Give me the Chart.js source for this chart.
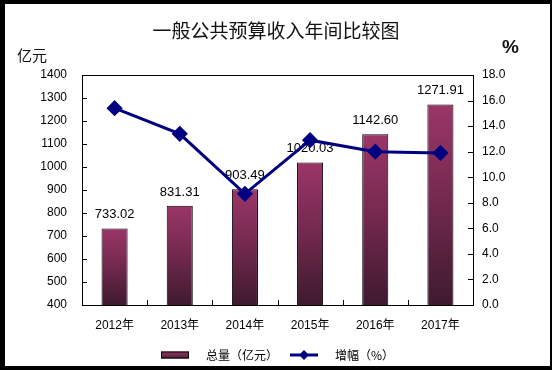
<!DOCTYPE html>
<html>
<head>
<meta charset="utf-8">
<script src="https://cdn.jsdelivr.net/npm/chart.js@4.4.0/dist/chart.umd.min.js"></script>
<style>
  html, body { margin: 0; padding: 0; background: #000; }
  #wrap { width: 552px; height: 370px; }
</style>
</head>
<body>
<div id="wrap"><canvas id="revenueChart" width="552" height="370"></canvas></div>
<script>
const years = ['2012年', '2013年', '2014年', '2015年', '2016年', '2017年'];
const totals = [733.02, 831.31, 903.49, 1020.03, 1142.60, 1271.91];
const growth = [15.4, 13.4, 8.7, 12.9, 12.0, 11.9];

const cjk = "'Noto Sans CJK SC', sans-serif";
Chart.defaults.font.family = "'Liberation Sans', 'Noto Sans CJK SC', sans-serif";
Chart.defaults.font.size = 12;
Chart.defaults.color = '#000';

function barFill(c) {
    const chart = c.chart;
    if (!chart.chartArea || c.raw === undefined) return '#993366';
    const top = chart.scales.y.getPixelForValue(c.raw);
    const bottom = chart.chartArea.bottom;
    const g = chart.ctx.createLinearGradient(0, top, 0, bottom);
    g.addColorStop(0, '#9b3668');
    g.addColorStop(0.45, '#762a50');
    g.addColorStop(1, '#3e1a2f');
    return g;
}

const decor = {
    id: 'decor',
    beforeDraw(chart) {
        const c = chart.ctx;
        c.save();
        c.fillStyle = '#000';
        c.fillRect(0, 0, 552, 370);
        c.fillStyle = '#fff';
        c.fillRect(5, 4, 545, 362);
        c.restore();
    },
    afterDatasetDraw(chart, args) {
        if (args.index !== 0) return;
        const c = chart.ctx;
        c.save();
        c.font = "13px 'Liberation Sans', sans-serif";
        c.fillStyle = '#000';
        c.textAlign = 'center';
        c.textBaseline = 'alphabetic';
        args.meta.data.forEach((bar, i) => {
            c.fillText(totals[i].toFixed(2), bar.x, bar.y - 10);
        });
        c.restore();
    },
    afterDraw(chart) {
        const c = chart.ctx;
        const a = chart.chartArea;
        const y = chart.scales.y, y1 = chart.scales.y1, x = chart.scales.x;
        c.save();
        c.strokeStyle = '#000';
        c.lineWidth = 1;
        c.beginPath();
        // top border
        c.moveTo(a.left, a.top + 0.5);
        c.lineTo(a.right, a.top + 0.5);
        // inward ticks
        y.ticks.forEach(t => {
            const p = Math.round(y.getPixelForValue(t.value)) + 0.5;
            c.moveTo(a.left, p); c.lineTo(a.left + 5, p);
        });
        y1.ticks.forEach(t => {
            const p = Math.round(y1.getPixelForValue(t.value)) + 0.5;
            c.moveTo(a.right, p); c.lineTo(a.right - 5, p);
        });
        for (let i = 1; i < years.length; i++) {
            const p = Math.round((x.getPixelForValue(i - 1) + x.getPixelForValue(i)) / 2) + 0.5;
            c.moveTo(p, a.bottom); c.lineTo(p, a.bottom - 5);
        }
        c.stroke();

        // title and units
        c.fillStyle = '#111';
        c.textBaseline = 'middle';
        c.textAlign = 'center';
        c.font = '19px ' + cjk;
        c.fillText('一般公共预算收入年间比较图', 276, 31);
        c.textAlign = 'left';
        c.font = '15px ' + cjk;
        c.fillText('亿元', 17, 55);
        c.font = "bold 19px 'Liberation Sans', sans-serif";
        c.fillText('%', 502, 48);

        // legend
        const ly = 355;
        const lg = c.createLinearGradient(0, ly - 4, 0, ly + 4);
        lg.addColorStop(0, '#9b3668');
        lg.addColorStop(1, '#4a1f38');
        c.fillStyle = lg;
        c.fillRect(161, ly - 3.5, 28, 7);
        c.strokeRect(161.5, ly - 3, 27, 6);
        c.fillStyle = '#000';
        c.font = '12px ' + cjk;
        c.fillText('总量（亿元）', 206, ly);
        c.strokeStyle = '#000080';
        c.lineWidth = 3;
        c.beginPath();
        c.moveTo(290, ly); c.lineTo(318, ly);
        c.stroke();
        c.fillStyle = '#000080';
        c.beginPath();
        c.moveTo(304, ly - 5); c.lineTo(309, ly); c.lineTo(304, ly + 5); c.lineTo(299, ly);
        c.closePath();
        c.fill();
        c.fillStyle = '#000';
        c.fillText('增幅（%）', 335, ly);
        c.restore();
    }
};

new Chart(document.getElementById('revenueChart'), {
    data: {
        labels: years,
        datasets: [
            {
                type: 'bar',
                label: '总量（亿元）',
                data: totals,
                yAxisID: 'y',
                backgroundColor: barFill,
                borderColor: '#000',
                borderWidth: 1,
                barPercentage: 0.4,
                categoryPercentage: 1,
                order: 1
            },
            {
                type: 'line',
                label: '增幅（%）',
                data: growth,
                yAxisID: 'y1',
                borderColor: '#000080',
                borderWidth: 3,
                pointStyle: 'rectRot',
                pointRadius: 6,
                pointBackgroundColor: '#000080',
                pointBorderColor: '#000080',
                tension: 0,
                order: 0
            }
        ]
    },
    options: {
        responsive: false,
        devicePixelRatio: 1,
        animation: false,
        layout: { padding: { top: 75, left: 0, right: 0, bottom: 0 } },
        plugins: {
            legend: { display: false },
            title: { display: false },
            tooltip: { enabled: false }
        },
        scales: {
            x: {
                grid: { display: false, drawTicks: false },
                border: { color: '#000' },
                ticks: { padding: 13, color: '#000' },
                afterFit(s) { s.height = 65; }
            },
            y: {
                position: 'left',
                min: 400,
                max: 1400,
                grid: { display: false, drawTicks: false },
                border: { color: '#000' },
                ticks: { stepSize: 100, padding: 15, color: '#000', callback: v => String(v) },
                afterFit(s) { s.width = 82; }
            },
            y1: {
                position: 'right',
                min: 0,
                max: 18,
                grid: { display: false, drawTicks: false },
                border: { color: '#000' },
                ticks: {
                    stepSize: 2,
                    padding: 9,
                    color: '#000',
                    callback: v => v.toFixed(1)
                },
                afterFit(s) { s.width = 79; }
            }
        }
    },
    plugins: [decor]
});
</script>
</body>
</html>
